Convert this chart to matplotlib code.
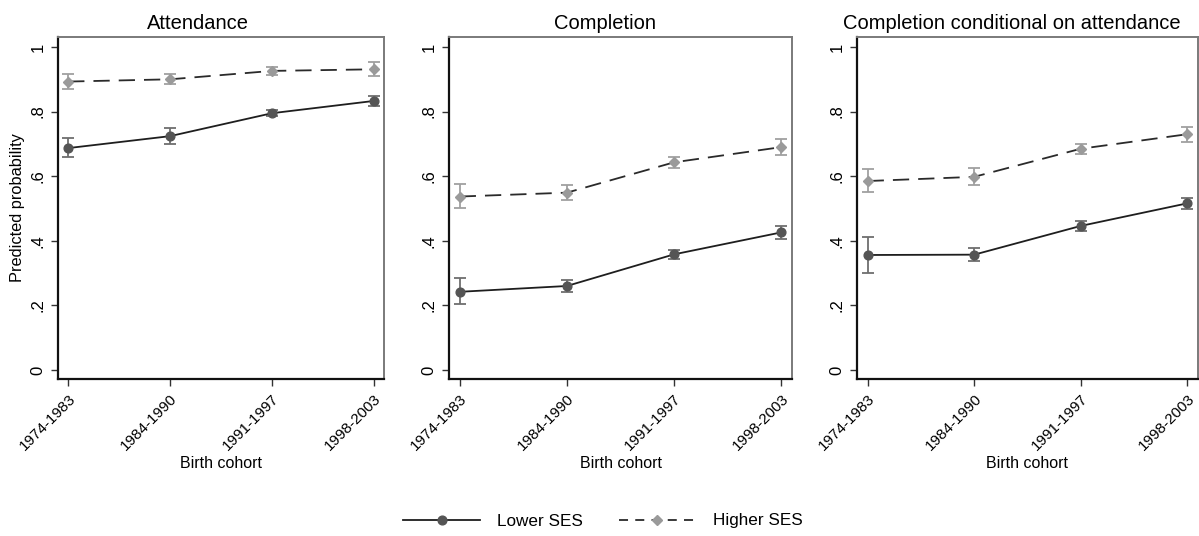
import matplotlib
matplotlib.use('Agg')
import matplotlib.pyplot as plt
from matplotlib.lines import Line2D

plt.rcParams['font.family'] = ['Liberation Sans', 'DejaVu Sans']

cohorts = ['1974-1983', '1984-1990', '1991-1997', '1998-2003']
titles = ['Attendance', 'Completion', 'Completion conditional on attendance']

# predicted probabilities with 95% CI bounds, one list per panel
lower_est = [[0.687, 0.724, 0.795, 0.833],
             [0.242, 0.260, 0.358, 0.426],
             [0.356, 0.357, 0.446, 0.516]]
lower_lo = [[0.659, 0.700, 0.785, 0.818],
            [0.205, 0.240, 0.345, 0.406],
            [0.300, 0.336, 0.430, 0.498]]
lower_hi = [[0.718, 0.750, 0.805, 0.848],
            [0.284, 0.280, 0.371, 0.446],
            [0.411, 0.378, 0.462, 0.534]]

higher_est = [[0.893, 0.900, 0.926, 0.931],
              [0.537, 0.549, 0.643, 0.690],
              [0.585, 0.598, 0.685, 0.730]]
higher_lo = [[0.870, 0.885, 0.914, 0.909],
             [0.500, 0.525, 0.626, 0.665],
             [0.552, 0.572, 0.670, 0.706]]
higher_hi = [[0.916, 0.915, 0.938, 0.953],
             [0.575, 0.573, 0.660, 0.716],
             [0.621, 0.626, 0.700, 0.752]]

W, H = 1199, 536
fig = plt.figure(figsize=(W / 100, H / 100), dpi=100)

# axes boxes in pixels: left, right, and title centre
boxes = [(58, 384, 198), (449, 792, 605), (857, 1198, 1012)]
top, bottom = 37, 379

dash = (0, (9, 5))
x = list(range(len(cohorts)))

for i, (l, r, tc) in enumerate(boxes):
    ax = fig.add_axes([l / W, 1 - bottom / H, (r - l) / W, (bottom - top) / H])
    ax.set_xlim(-0.1, 3.1)

    for est, lo, hi, mk, ms, mc, ec, ls, lc in [
        (lower_est[i], lower_lo[i], lower_hi[i], 'o', 6.3, '#555555', '#6e6e6e', '-', '#1e1e1e'),
        (higher_est[i], higher_lo[i], higher_hi[i], 'D', 5.4, '#9a9a9a', '#a0a0a0', dash, '#2a2a2a'),
    ]:
        yerr = [[e - a for e, a in zip(est, lo)], [b - e for e, b in zip(est, hi)]]
        ax.errorbar(x, est, yerr=yerr, fmt='none', ecolor=ec, elinewidth=1.3,
                    capsize=4, capthick=1.3, zorder=2)
        ax.plot(x, est, linestyle=ls, color=lc, linewidth=1.3, zorder=3)
        ax.plot(x, est, linestyle='none', marker=mk, markersize=ms,
                markerfacecolor=mc, markeredgecolor=mc, zorder=4)

    ax.set_ylim(-0.028, 1.031)
    ax.set_yticks([0, 0.2, 0.4, 0.6, 0.8, 1])
    ax.set_yticklabels(['0', '.2', '.4', '.6', '.8', '1'], rotation=90,
                       va='center', fontsize=12)
    ax.set_xticks(x)
    ax.set_xticklabels(cohorts, rotation=45, ha='right', rotation_mode='anchor',
                       fontsize=11)
    ax.tick_params(axis='both', direction='out', length=5, width=1,
                   color='#333333', pad=4)
    ax.set_xlabel('Birth cohort', fontsize=11.5, labelpad=2)
    ax.set_title(titles[i], fontsize=14.5, pad=6, x=(tc - l) / (r - l))
    if i == 0:
        ax.set_ylabel('Predicted probability', fontsize=11.8, labelpad=4)

    for s in ['left', 'bottom']:
        ax.spines[s].set_color('#111111')
        ax.spines[s].set_linewidth(1.6)
    for s in ['top', 'right']:
        ax.spines[s].set_color('#7a7a7a')
        ax.spines[s].set_linewidth(1.4)

handles = [
    Line2D([], [], color='#1e1e1e', linewidth=1.3, marker='o', markersize=6.3,
           markerfacecolor='#555555', markeredgecolor='#555555'),
    Line2D([], [], color='#2a2a2a', linewidth=1.3, linestyle=(0, (5, 4)),
           marker='D', markersize=5.4, markerfacecolor='#9a9a9a',
           markeredgecolor='#9a9a9a'),
]
fig.legend(handles, ['Lower SES', 'Higher SES'], loc='center',
           bbox_to_anchor=(603 / W, 1 - 521 / H), ncol=2, frameon=False,
           fontsize=12.3, handlelength=4.5, columnspacing=2.1, handletextpad=1.0)

fig.savefig('out.png', dpi=100, facecolor='white')
